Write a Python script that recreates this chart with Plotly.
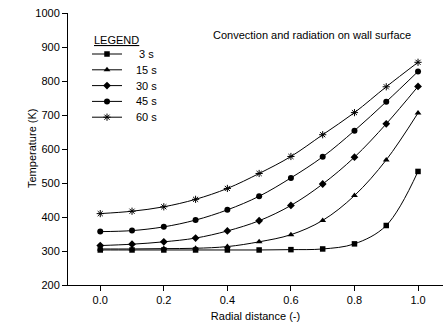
import plotly.graph_objects as go

radial = [0.0, 0.1, 0.2, 0.3, 0.4, 0.5, 0.6, 0.7, 0.8, 0.9, 1.0]
t3 = [303, 303, 303, 303, 303, 303, 304, 306, 321, 375, 534]
t15 = [306, 306, 307, 308, 313, 327, 348, 390, 463, 568, 706]
t30 = [316, 320, 327, 338, 359, 389, 434, 497, 576, 674, 784]
t45 = [357, 360, 371, 391, 421, 461, 515, 577, 654, 739, 828]
t60 = [410, 417, 430, 452, 484, 528, 578, 642, 707, 783, 855]

labels = ["\u00a03 s", "15 s", "30 s", "45 s", "60 s"]
values = [t3, t15, t30, t45, t60]
symbols = ["square", "triangle-up", "diamond", "circle", "asterisk-open"]
sizes = [5.5, 6, 6, 6, 6]

# plot area in pixels: x 68..443, y 13..285
PX_L, PX_R, PX_T, PX_B = 68, 443, 13, 285

fig = go.Figure()


def marker_for(sym, size):
    if sym == "asterisk-open":
        return dict(symbol=sym, size=size, color="black", line=dict(color="black", width=1))
    return dict(symbol=sym, size=size, color="black", line=dict(width=0))


for name, ys, sym, sz in zip(labels, values, symbols, sizes):
    fig.add_trace(go.Scatter(
        x=radial, y=ys, name=name, mode="lines+markers", showlegend=False,
        line=dict(color="black", width=1, shape="spline", smoothing=1),
        marker=marker_for(sym, sz),
    ))

# hand-made legend on a pixel-unit overlay axis
leg_x0, leg_x1, leg_xm = 92, 122, 107
row_y0, row_dy = 54, 15.8
for i, (name, sym, sz) in enumerate(zip(labels, symbols, sizes)):
    yy = row_y0 + i * row_dy
    fig.add_trace(go.Scatter(
        x=[leg_x0, leg_x1], y=[yy, yy], xaxis="x2", yaxis="y2", mode="lines",
        line=dict(color="black", width=1), showlegend=False, hoverinfo="skip",
    ))
    fig.add_trace(go.Scatter(
        x=[leg_xm], y=[yy], xaxis="x2", yaxis="y2", mode="markers",
        marker=marker_for(sym, sz), showlegend=False, hoverinfo="skip",
    ))
    fig.add_annotation(
        x=134, y=yy, xref="x2", yref="y2", xanchor="left", yanchor="middle",
        text=name, showarrow=False, font=dict(size=11, color="black"),
    )

fig.add_annotation(
    x=92, y=40, xref="x2", yref="y2", xanchor="left", yanchor="middle",
    text="<u>LEGEND</u>", showarrow=False, font=dict(size=11, color="black"),
)

fig.add_annotation(
    x=211, y=35, xref="x2", yref="y2", xanchor="left", yanchor="middle",
    text="Convection and radiation on wall surface", showarrow=False,
    font=dict(size=11, color="black"),
)

fig.add_annotation(
    x=(32 - PX_L) / (PX_R - PX_L), y=0.5, xref="paper", yref="paper",
    xanchor="center", yanchor="middle",
    text="Temperature (K)", textangle=-90, showarrow=False,
    font=dict(size=11, color="black"),
)

fig.update_layout(
    width=443, height=330,
    margin=dict(l=PX_L, r=443 - PX_R, t=PX_T, b=330 - PX_B),
    paper_bgcolor="white", plot_bgcolor="white",
    font=dict(family="Liberation Sans, Arial, sans-serif", size=11, color="black"),
    showlegend=False,
    xaxis=dict(
        range=[-0.1015, 1.0786], tickvals=[0.0, 0.2, 0.4, 0.6, 0.8, 1.0],
        ticktext=["0.0", "0.2", "0.4", "0.6", "0.8", "1.0"],
        ticks="outside", ticklen=5, tickcolor="black", showline=True, linecolor="black",
        linewidth=1, showgrid=False, zeroline=False,
        title=dict(text="Radial distance (-)", font=dict(size=11), standoff=7),
    ),
    yaxis=dict(
        range=[200, 1000], tickvals=[200, 300, 400, 500, 600, 700, 800, 900, 1000],
        ticks="outside", ticklen=5, tickcolor="black", showline=True, linecolor="black",
        linewidth=1, showgrid=False, zeroline=False,
    ),
    xaxis2=dict(range=[PX_L, PX_R], overlaying="x", visible=False, fixedrange=True),
    yaxis2=dict(range=[PX_B, PX_T], overlaying="y", visible=False, fixedrange=True),
)

fig.write_html("out.html")
